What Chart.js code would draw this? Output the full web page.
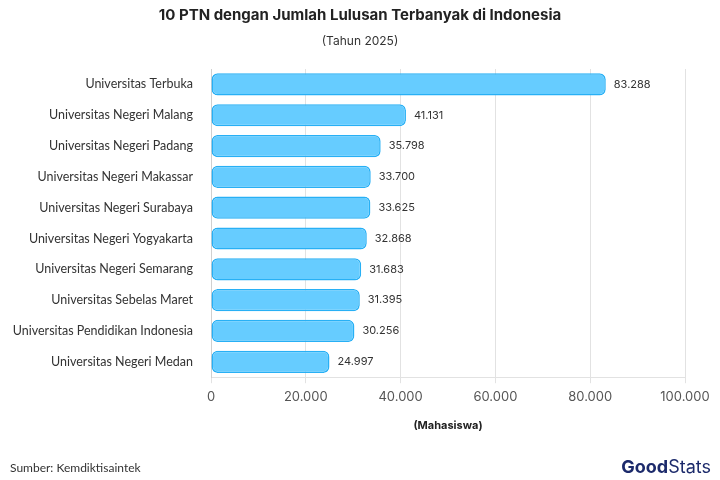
<!DOCTYPE html>
<html>
<head>
<meta charset="utf-8">
<script src="https://cdn.jsdelivr.net/npm/chart.js@4.4.1/dist/chart.umd.min.js"></script>
<style>
  html, body { margin: 0; padding: 0; background: #fff; }
  #wrap { width: 720px; height: 480px; }
</style>
</head>
<body>
<div id="wrap"><canvas id="myChart" width="720" height="480"></canvas></div>
<script>
// data
const kampus = [
  'Universitas Terbuka',
  'Universitas Negeri Malang',
  'Universitas Negeri Padang',
  'Universitas Negeri Makassar',
  'Universitas Negeri Surabaya',
  'Universitas Negeri Yogyakarta',
  'Universitas Negeri Semarang',
  'Universitas Sebelas Maret',
  'Universitas Pendidikan Indonesia',
  'Universitas Negeri Medan'
];
const lulusan = [83288, 41131, 35798, 33700, 33625, 32868, 31683, 31395, 30256, 24997];
const judul = '10 PTN dengan Jumlah Lulusan Terbanyak di Indonesia';
const subjudul = '(Tahun 2025)';
const sumber = 'Sumber: Kemdiktisaintek';

const FONT = 'Inter, "Open Sans", sans-serif';
const FONT2 = 'Lato, "Open Sans", sans-serif';

// format angka ala Indonesia: 83288 -> 83.288
function fmt(n) {
  return String(n).replace(/\B(?=(\d{3})+(?!\d))/g, '.');
}

// tulis judul, label nilai, sumber dan logo
const teksPlugin = {
  id: 'teks',
  afterDatasetsDraw(chart) {
    const ctx = chart.ctx;
    const meta = chart.getDatasetMeta(0);
    ctx.save();
    ctx.font = '11px ' + FONT;
    ctx.fillStyle = '#333';
    ctx.textAlign = 'left';
    ctx.textBaseline = 'middle';
    meta.data.forEach((bar, i) => {
      ctx.fillText(fmt(lulusan[i]), bar.x + 8, bar.y);
    });
    ctx.restore();
  },
  afterDraw(chart) {
    const ctx = chart.ctx;
    ctx.save();
    ctx.fillStyle = '#222';
    ctx.textAlign = 'center';
    ctx.textBaseline = 'middle';
    ctx.font = 'bold 15px ' + FONT;
    ctx.fillText(judul, 360, 15);
    ctx.font = '12px ' + FONT;
    ctx.fillStyle = '#333';
    ctx.fillText(subjudul, 360, 41);

    ctx.textAlign = 'left';
    ctx.font = '12px ' + FONT2;
    ctx.fillText(sumber, 10, 468);

    // logo GoodStats
    ctx.textAlign = 'right';
    ctx.font = '18px ' + FONT;
    ctx.fillStyle = '#1c2a6b';
    const w2 = ctx.measureText('Stats').width;
    ctx.fillText('Stats', 711, 468);
    ctx.font = 'bold 18px ' + FONT;
    ctx.fillText('Good', 711 - w2, 468);
    ctx.restore();
  }
};

const ctx = document.getElementById('myChart').getContext('2d');
const myChart = new Chart(ctx, {
  type: 'bar',
  data: {
    labels: kampus,
    datasets: [{
      data: lulusan,
      backgroundColor: 'rgba(102, 204, 255, 1)',
      borderColor: 'rgba(40, 176, 245, 1)',
      borderWidth: 1.5,
      borderRadius: 6,
      borderSkipped: false,
      barPercentage: 0.8,
      categoryPercentage: 0.9
    }]
  },
  options: {
    indexAxis: 'y',
    responsive: false,
    animation: false,
    layout: { padding: { top: 69, left: 0, right: 35, bottom: 44 } },
    plugins: {
      legend: { display: false },
      tooltip: { enabled: false }
    },
    scales: {
      x: {
        min: 0,
        max: 100000,
        ticks: {
          stepSize: 20000,
          color: '#555',
          font: { family: FONT, size: 13 },
          padding: 6,
          callback: v => fmt(v)
        },
        grid: { color: '#e2e2e2', drawTicks: true, tickLength: 6 },
        border: { color: '#e2e2e2' },
        title: {
          display: true,
          text: '(Mahasiswa)',
          color: '#222',
          font: { family: FONT, size: 11, weight: 'bold' },
          padding: { top: 8 }
        }
      },
      y: {
        afterFit(scale) { scale.width = 211; },
        ticks: {
          color: '#333',
          font: { family: FONT2, size: 12.5 },
          padding: 10
        },
        grid: { display: false },
        border: { color: '#d0d0d0' }
      }
    }
  },
  plugins: [teksPlugin]
});
</script>
</body>
</html>
